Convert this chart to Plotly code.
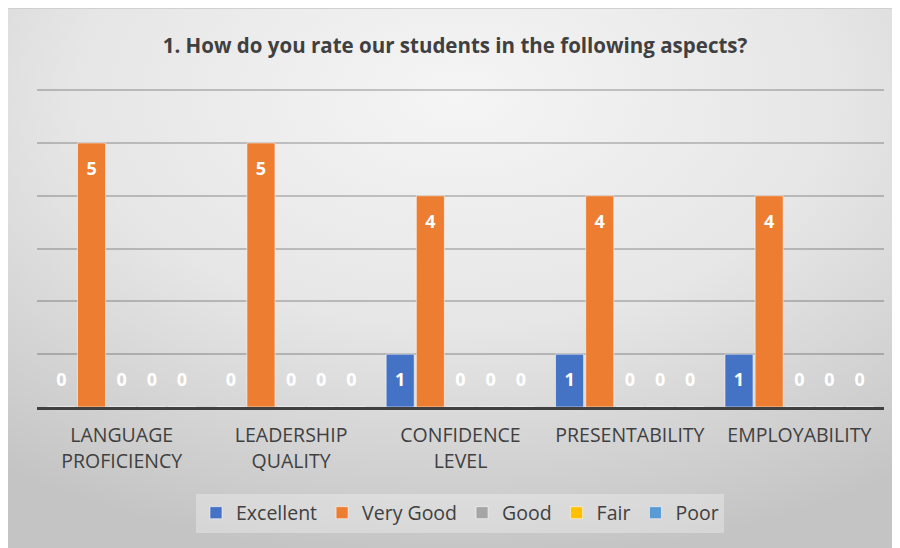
import base64
import plotly.graph_objects as go

categories = ["LANGUAGE<br>PROFICIENCY", "LEADERSHIP<br>QUALITY", "CONFIDENCE<br>LEVEL",
              "PRESENTABILITY", "EMPLOYABILITY"]
series_names = ["Excellent", "Very Good", "Good", "Fair", "Poor"]
excellent = [0, 0, 1, 1, 1]
very_good = [5, 5, 4, 4, 4]
good = [0, 0, 0, 0, 0]
fair = [0, 0, 0, 0, 0]
poor = [0, 0, 0, 0, 0]
series_values = [excellent, very_good, good, fair, poor]
colors = ["#4472C4", "#ED7D31", "#A5A5A5", "#FFC000", "#5B9BD5"]

W, H = 900, 548
ML, MR, MT, MB = 29, 24, 79, 149
pw, ph = W - ML - MR, H - MT - MB
GAP = 0.11
YMAX = 6.06

fig = go.Figure()
for name, vals, col in zip(series_names, series_values, colors):
    fig.add_trace(go.Bar(
        x=categories, y=vals, name=name,
        marker=dict(color=col, line=dict(color="rgba(255,255,255,0.55)", width=1)),
        hoverinfo="x+y+name",
    ))
for i, (name, vals) in enumerate(zip(series_names, series_values)):
    fig.add_trace(go.Scatter(
        x=categories, y=[max(v, 1) - 0.52 for v in vals], xaxis="x2",
        text=[str(v) for v in vals], mode="text",
        textfont=dict(color="white", size=18, family="Open Sans", weight="bold"),
        showlegend=False, hoverinfo="skip",
    ))

svg = (
    '<svg xmlns="http://www.w3.org/2000/svg" width="900" height="548" preserveAspectRatio="none">'
    '<defs><radialGradient id="g" cx="0.5" cy="0.16" r="0.85" fx="0.5" fy="0.16">'
    '<stop offset="0" stop-color="#f5f5f5"/><stop offset="0.5" stop-color="#e6e6e6"/>'
    '<stop offset="1" stop-color="#c4c4c4"/></radialGradient></defs>'
    '<rect x="0" y="0" width="900" height="548" fill="url(#g)"/>'
    '<line x1="0" y1="0.5" x2="900" y2="0.5" stroke="#d0d0d0" stroke-width="1"/>'
    '</svg>'
)
src = "data:image/svg+xml;base64," + base64.b64encode(svg.encode()).decode()

fig.update_layout(
    width=W, height=H,
    margin=dict(l=ML, r=MR, t=MT, b=MB, pad=0),
    paper_bgcolor="white", plot_bgcolor="rgba(0,0,0,0)",
    barmode="group", bargap=GAP, bargroupgap=0.07,
    scattermode="group", scattergap=GAP,
    title=dict(text="<b>1. How do you rate our students in the following aspects?</b>",
               x=447 / W, xanchor="center", y=1 - 38 / H, yanchor="middle",
               font=dict(family="Open Sans", size=20.5, color="#404040")),
    font=dict(family="Open Sans", color="#404040"),
    images=[dict(source=src, xref="paper", yref="paper",
                 x=-ML / pw, y=1 + MT / ph,
                 sizex=W / pw, sizey=H / ph,
                 sizing="stretch", xanchor="left", yanchor="top", layer="below")],
    legend=dict(orientation="h", x=(452 - ML) / pw, xanchor="center",
                y=-(505 - (H - MB)) / ph, yanchor="middle",
                bgcolor="rgba(255,255,255,0.3)", font=dict(size=19.5, color="#404040"),
                itemwidth=30, traceorder="normal"),
    showlegend=True,
    xaxis=dict(showline=True, linecolor="#404040", linewidth=3, ticks="",
               tickfont=dict(size=19.5, color="#404040"), showgrid=False,
               ticklabelstandoff=9,
               range=[-0.5, 4.5], categoryorder="array", categoryarray=categories),
    xaxis2=dict(overlaying="x", visible=False, range=[-0.5, 4.5],
                categoryorder="array", categoryarray=categories),
    yaxis=dict(range=[0, YMAX], dtick=1, showticklabels=False, showgrid=True,
               gridcolor="rgba(0,0,0,0.2)", gridwidth=1.5, zeroline=False),
)

fig.write_html("out.html")
